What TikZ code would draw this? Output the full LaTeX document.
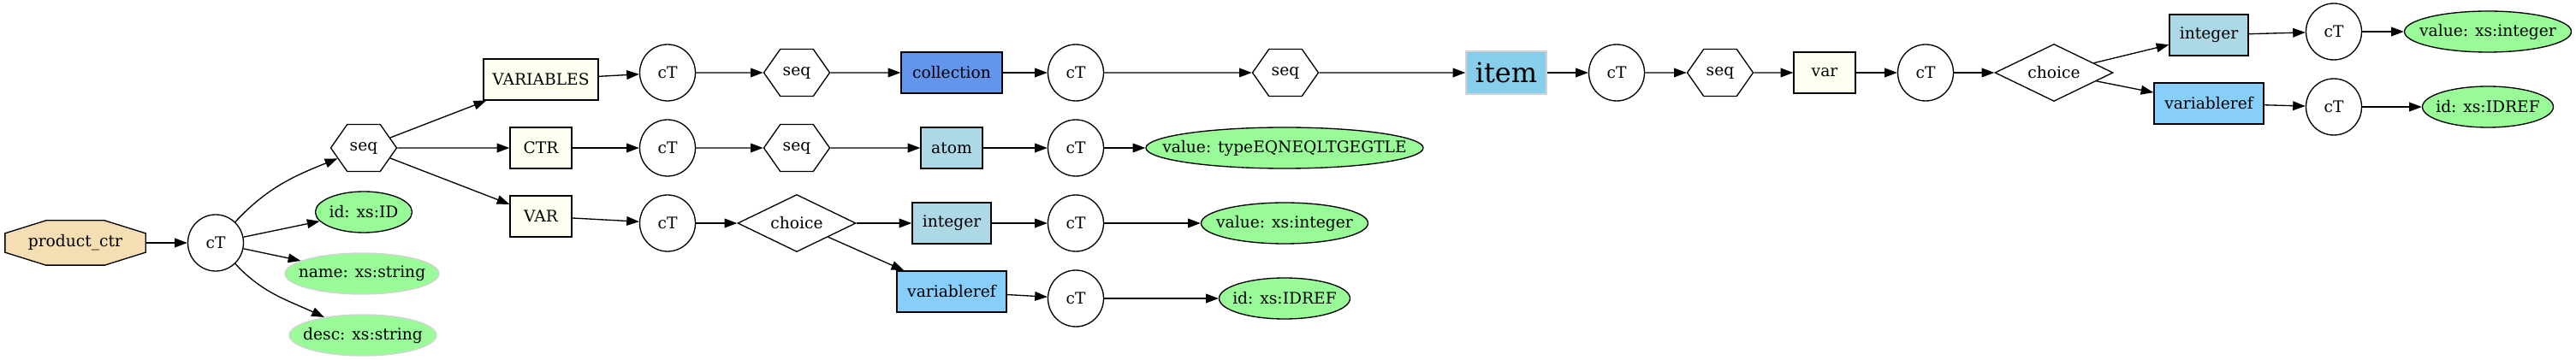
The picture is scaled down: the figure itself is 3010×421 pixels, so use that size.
\documentclass[tikz,border=0pt]{standalone}
\usepackage{fontspec}
\setmainfont{DejaVu Serif}
\usetikzlibrary{shapes.geometric,shapes.symbols,arrows.meta,backgrounds}
\definecolor{wheatc}{HTML}{F5DEB3}
\definecolor{ivoryc}{HTML}{FFFFF0}
\definecolor{cornflower}{HTML}{6495ED}
\definecolor{lbluec}{HTML}{ADD8E6}
\definecolor{lskyblue}{HTML}{87CEFA}
\definecolor{skyb}{HTML}{87CEEB}
\definecolor{pgreen}{HTML}{98FB98}
\definecolor{lgrey}{HTML}{D3D3D3}
\newcommand{\zb}[1]{\makebox[0pt]{#1}}
\begin{document}
\begin{tikzpicture}[x=0.75pt,y=0.75pt,
 every node/.style={font=\fontsize{14pt}{16pt}\selectfont, inner sep=0pt, line width=1pt},
 ctnode/.style={ellipse, draw, fill=white, minimum width=48.75pt, minimum height=49.5pt},
 seqnode/.style={signal, signal to=east and west, signal pointer angle=110, draw, fill=white, minimum width=57.75pt, minimum height=41.25pt},
 choicenode/.style={diamond, draw, fill=white, minimum width=103.5pt, minimum height=50.25pt},
 boxnode/.style={rectangle, draw, minimum height=36pt},
 attr/.style={ellipse, draw, fill=pgreen, minimum height=36pt},
 attrl/.style={ellipse, draw=lgrey, fill=pgreen, minimum height=36pt},
 conn/.style={line width=1pt, -{Triangle[length=11pt,width=8pt]}}
]
\path[use as bounding box] (0,0) rectangle (3010,421);

% left part
\node[minimum width=122.25pt, minimum height=38.25pt] (P) at (88,137) {product\_ctr};
\begin{scope}[on background layer]
\draw[line width=1pt, fill=wheatc]
 ([xshift=36pt]P.north west) -- ([xshift=-36pt]P.north east) -- ([yshift=-11.25pt]P.north east)
 -- ([yshift=11.25pt]P.south east) -- ([xshift=-36pt]P.south east) -- ([xshift=36pt]P.south west)
 -- ([yshift=11.25pt]P.south west) -- ([yshift=-11.25pt]P.north west) -- cycle;
\end{scope}
\node[ctnode] (C0) at (252,137) {cT};
\node[seqnode] (S0) at (425,248) {\zb{seq}};
\node[attr, minimum width=84.75pt] (A1) at (425,173) {\zb{id: xs:ID}};
\node[attrl, minimum width=135pt] (A2) at (423,101) {\zb{name: xs:string}};
\node[attrl, minimum width=129pt] (A3) at (424,29) {\zb{desc: xs:string}};

\node[boxnode, fill=ivoryc, minimum width=100.5pt] (E1) at (632,328) {VARIABLES};
\node[boxnode, fill=ivoryc, minimum width=54pt] (E2) at (632,248) {CTR};
\node[boxnode, fill=ivoryc, minimum width=54pt] (E3) at (632,168) {VAR};

\node[ctnode] (C1) at (780,336) {cT};
\node[ctnode] (C2) at (780,248) {cT};
\node[ctnode] (C3) at (780,160) {cT};

\node[seqnode] (S1) at (931,336) {\zb{seq}};
\node[seqnode] (S2) at (931,248) {\zb{seq}};
\node[choicenode] (CH1) at (931,160) {\zb{choice}};

\node[boxnode, fill=cornflower, minimum width=88.5pt] (COL) at (1112,336) {collection};
\node[boxnode, fill=lbluec, minimum width=54pt] (ATOM) at (1112,248) {atom};
\node[boxnode, fill=lbluec, minimum width=69pt] (INT1) at (1112,160) {integer};
\node[boxnode, fill=lskyblue, minimum width=96pt] (VR1) at (1112,80) {variableref};

\node[ctnode] (C4) at (1257,336) {cT};
\node[ctnode] (C5) at (1257,248) {cT};
\node[ctnode] (C6) at (1257,160) {cT};
\node[ctnode] (C7) at (1257,72) {cT};

\node[seqnode] (S3) at (1502,336) {\zb{seq}};
\node[attr, minimum width=243pt] (V1) at (1501,248) {\zb{value: typeEQNEQLTGEGTLE}};
\node[attr, minimum width=146.25pt] (V2) at (1501,160) {\zb{value: xs:integer}};
\node[attr, minimum width=114.75pt] (V3) at (1501,72) {\zb{id: xs:IDREF}};

\node[boxnode, draw=lgrey, fill=skyb, minimum width=70.5pt, minimum height=37.5pt, font=\fontsize{24pt}{28pt}\selectfont] (ITEM) at (1760,336) {item};
\node[ctnode] (C8) at (1889,336) {cT};
\node[seqnode] (S4) at (2010,336) {\zb{seq}};
\node[boxnode, fill=ivoryc, minimum width=54pt] (VARB) at (2132,336) {var};
\node[ctnode] (C9) at (2250,336) {cT};
\node[choicenode] (CH2) at (2400,336) {\zb{choice}};

\node[boxnode, fill=lbluec, minimum width=69pt] (INT2) at (2581,380) {integer};
\node[boxnode, fill=lskyblue, minimum width=96pt] (VR2) at (2581,300) {variableref};
\node[ctnode] (C10) at (2727,384) {cT};
\node[ctnode] (C11) at (2727,296) {cT};
\node[attr, minimum width=146.25pt] (V4) at (2907,384) {\zb{value: xs:integer}};
\node[attr, minimum width=114.75pt] (V5) at (2907,296) {\zb{id: xs:IDREF}};

% connectors
\draw[conn] (P) -- (C0);
\draw[conn] (C0) to[out=47,in=202] (S0);
\draw[conn] (C0) -- (A1);
\draw[conn] (C0) -- (A2);
\draw[conn] (C0) to[out=-47,in=155] (A3);

\draw[conn] (S0) -- (E1);
\draw[conn] (S0) -- (E2);
\draw[conn] (S0) -- (E3);
\draw[conn] (E1) -- (C1);
\draw[conn] (E2) -- (C2);
\draw[conn] (E3) -- (C3);
\draw[conn] (C1) -- (S1);
\draw[conn] (C2) -- (S2);
\draw[conn] (C3) -- (CH1);
\draw[conn] (S1) -- (COL);
\draw[conn] (S2) -- (ATOM);
\draw[conn] (CH1) -- (INT1);
\draw[conn] (CH1) -- (VR1);
\draw[conn] (COL) -- (C4);
\draw[conn] (ATOM) -- (C5);
\draw[conn] (INT1) -- (C6);
\draw[conn] (VR1) -- (C7);
\draw[conn] (C4) -- (S3);
\draw[conn] (C5) -- (V1);
\draw[conn] (C6) -- (V2);
\draw[conn] (C7) -- (V3);
\draw[conn] (S3) -- (ITEM);
\draw[conn] (ITEM) -- (C8);
\draw[conn] (C8) -- (S4);
\draw[conn] (S4) -- (VARB);
\draw[conn] (VARB) -- (C9);
\draw[conn] (C9) -- (CH2);
\draw[conn] (CH2) -- (INT2);
\draw[conn] (CH2) -- (VR2);
\draw[conn] (INT2) -- (C10);
\draw[conn] (VR2) -- (C11);
\draw[conn] (C10) -- (V4);
\draw[conn] (C11) -- (V5);
\end{tikzpicture}
\end{document}
